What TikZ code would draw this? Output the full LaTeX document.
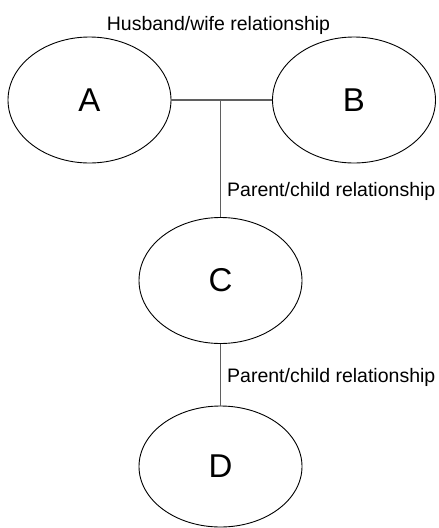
\documentclass[tikz,border=0pt]{standalone}
\usepackage{fontspec}
\setmainfont{Liberation Sans}
\usetikzlibrary{shapes.geometric}
\definecolor{linegray}{RGB}{95,95,95}
\begin{document}
\begin{tikzpicture}[x=1pt,y=1pt,
  person/.style={draw=black,line width=0.9pt,ellipse,minimum width=163pt,minimum height=126pt,inner sep=0pt,font=\fontsize{33}{33}\selectfont},
  link/.style={draw=linegray,line width=1.2pt},
  rel/.style={font=\fontsize{19.5}{20}\selectfont,inner sep=0pt}]
\useasboundingbox (0,0) rectangle (439,-528);
\node[person] (A) at (89.5,-100) {A};
\node[person] (B) at (354,-100) {B};
\node[person] (C) at (220.5,-280.5) {C};
\node[person,minimum height=121pt] (D) at (220.5,-466.5) {D};
\coordinate (J) at (220.5,-100);
\draw[link] (A.east) -- (B.west);
\draw[link] (J) -- (C.north);
\draw[link] (C.south) -- (D.north);
\node[rel,anchor=base] (hw) at (218.5,-30) {Husband/wife relationship};
\node[rel,anchor=base west] (pc1) at (227,-196) {Parent/child relationship};
\node[rel,anchor=base west] (pc2) at (227,-382) {Parent/child relationship};
\end{tikzpicture}
\end{document}
